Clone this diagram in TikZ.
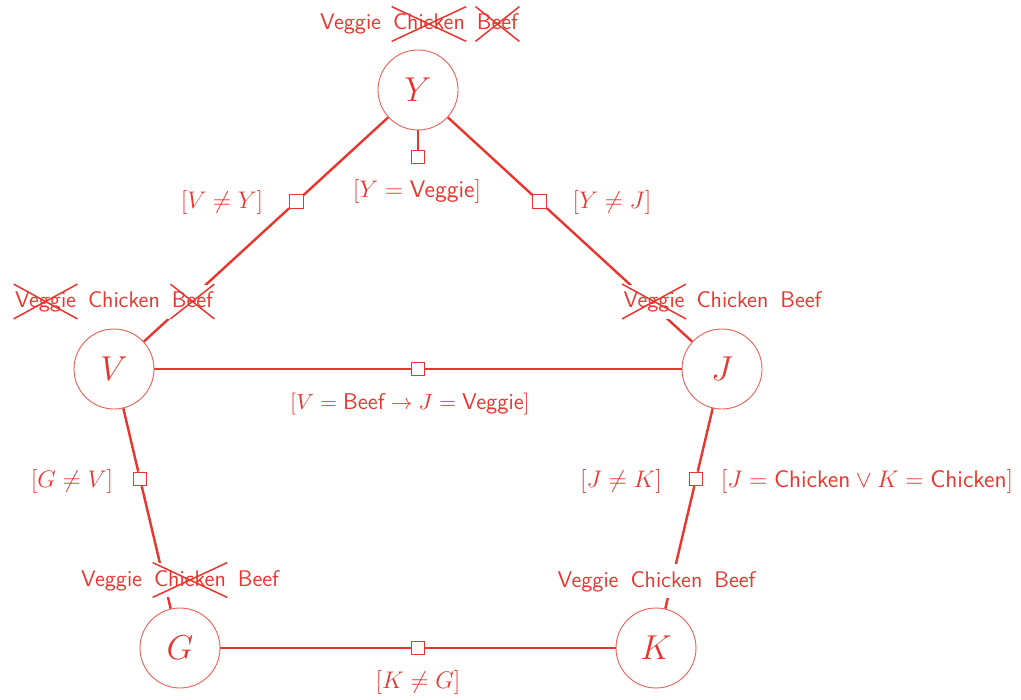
\documentclass[tikz,border=0pt]{standalone}
\usetikzlibrary{matrix,calc}
\definecolor{cred}{RGB}{232,54,46}
\newcommand\crossword[1]{\draw[xline] (#1.north west) -- (#1.south east) (#1.south west) -- (#1.north east);}
\begin{document}
\begin{tikzpicture}[x=0.5pt,y=-0.5pt,
  var/.style={circle, draw=cred!80, line width=0.45pt, minimum size=40pt, inner sep=0pt, text=cred, font=\fontsize{17}{20}\selectfont},
  factor/.style={rectangle, draw=cred, line width=0.5pt, fill=white, minimum size=6.75pt, inner sep=0pt},
  edge/.style={draw=cred, line width=1.2pt},
  lbl/.style={text=cred, font=\fontsize{12}{14.4}\selectfont, inner sep=0pt},
  dom/.style={matrix of nodes, fill=white, inner sep=0pt, column sep=5pt,
    nodes={text=cred, font=\fontsize{11.3}{13.6}\selectfont\sffamily, text height=8pt, text depth=2pt, inner xsep=0.5pt, inner ysep=3.5pt, anchor=center}},
  xline/.style={draw=cred, line width=0.75pt}]
\useasboundingbox (0,0) rectangle (1021,700);

% variables
\node[var] (Y) at (418,90) {$Y$};
\node[var] (V) at (114,369) {$V$};
\node[var] (J) at (722,369) {$J$};
\node[var] (G) at (180,648) {$G$};
\node[var] (K) at (656,648) {$K$};

% factors
\node[factor] (fY) at (418,157) {};
\node[factor] (fYV) at ($(Y)!0.4!(V)$) {};
\node[factor] (fYJ) at ($(Y)!0.4!(J)$) {};
\node[factor] (fVJ) at ($(V)!0.5!(J)$) {};
\node[factor] (fVG) at ($(V)!0.394!(G)$) {};
\node[factor] (fJK) at ($(J)!0.394!(K)$) {};
\node[factor] (fGK) at ($(G)!0.5!(K)$) {};

% edges
\draw[edge] (Y) -- (fY);
\draw[edge] (Y) -- (fYV) -- (V);
\draw[edge] (Y) -- (fYJ) -- (J);
\draw[edge] (V) -- (fVJ) -- (J);
\draw[edge] (V) -- (fVG) -- (G);
\draw[edge] (J) -- (fJK) -- (K);
\draw[edge] (G) -- (fGK) -- (K);

% constraint labels
\node[lbl] (lYV) at (222,202) {$[V \neq Y]$};
\node[lbl] (lY) at (417,192) {$[Y = \textsf{Veggie}]$};
\node[lbl] (lYJ) at (612,202) {$[Y \neq J]$};
\node[lbl, font=\fontsize{11.4}{13.7}\selectfont] (lVJ) at (410,404) {$[V = \textsf{Beef} \rightarrow J = \textsf{Veggie}]$};
\node[lbl] (lVG) at (72,481) {$[G \neq V]$};
\node[lbl] (lJK) at (621,481) {$[J \neq K]$};
\node[lbl] (lJK2) at (867,481) {$[J = \textsf{Chicken} \vee K = \textsf{Chicken}]$};
\node[lbl] (lGK) at (418,682) {$[K \neq G]$};

% domains
\matrix[dom] (dY) at (419,24) {Veggie & Chicken & Beef\\};
\crossword{dY-1-2}\crossword{dY-1-3}
\matrix[dom] (dV) at (114,301.5) {Veggie & Chicken & Beef\\};
\crossword{dV-1-1}\crossword{dV-1-3}
\matrix[dom] (dJ) at (722.5,301.5) {Veggie & Chicken & Beef\\};
\crossword{dJ-1-1}
\matrix[dom] (dG) at (180,580) {Veggie & Chicken & Beef\\};
\crossword{dG-1-2}
\matrix[dom] (dK) at (656.5,581) {Veggie & Chicken & Beef\\};
\end{tikzpicture}
\end{document}
